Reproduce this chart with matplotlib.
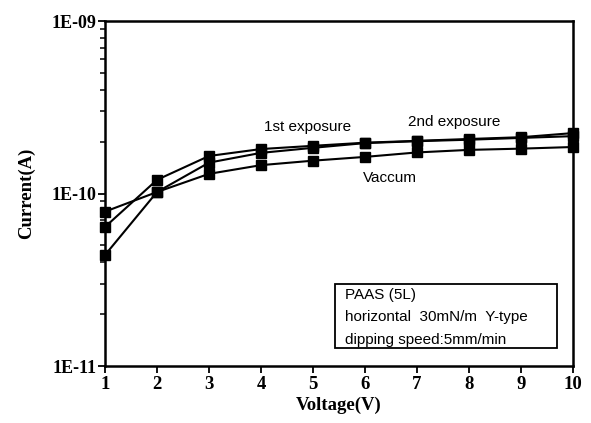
import matplotlib
matplotlib.use("Agg")
import matplotlib.pyplot as plt
from matplotlib.patches import Rectangle
from matplotlib.ticker import LogLocator, NullFormatter, FixedLocator

voltage = [1, 2, 3, 4, 5, 6, 7, 8, 9, 10]
vaccum = [7.85e-11, 1.02e-10, 1.30e-10, 1.46e-10, 1.55e-10, 1.63e-10, 1.73e-10, 1.79e-10, 1.82e-10, 1.86e-10]
first_exposure = [6.4e-11, 1.20e-10, 1.65e-10, 1.81e-10, 1.89e-10, 1.97e-10, 2.02e-10, 2.07e-10, 2.12e-10, 2.24e-10]
second_exposure = [4.4e-11, 1.02e-10, 1.51e-10, 1.72e-10, 1.84e-10, 1.96e-10, 2.01e-10, 2.05e-10, 2.10e-10, 2.15e-10]

y_ticks = [1e-11, 1e-10, 1e-9]
y_tick_labels = ["1E-11", "1E-10", "1E-09"]
x_tick_labels = [str(v) for v in voltage]
box_lines = ["PAAS (5L)", "horizontal  30mN/m  Y-type", "dipping speed:5mm/min"]

fig = plt.figure(figsize=(5.91, 4.23), dpi=100)
ax = fig.add_axes([105/591, 1 - 366/423, (573-105)/591, (366-21)/423])

for series in (vaccum, first_exposure, second_exposure):
    ax.plot(voltage, series, color="black", lw=1.5, marker="s", ms=7.5,
            markerfacecolor="black", markeredgecolor="black", clip_on=False)

ax.set_yscale("log")
ax.set_ylim(1e-11, 1e-9)
ax.set_xlim(1, 10)

serif = ["Liberation Serif", "DejaVu Serif"]
sans = ["Liberation Sans", "DejaVu Sans"]

ax.yaxis.set_major_locator(FixedLocator(y_ticks))
ax.set_yticklabels(y_tick_labels, fontfamily=serif, fontweight="bold", fontsize=13)
ax.yaxis.set_minor_locator(LogLocator(base=10, subs=range(2, 10)))
ax.yaxis.set_minor_formatter(NullFormatter())
ax.set_xticks(voltage)
ax.set_xticklabels(x_tick_labels, fontfamily=serif, fontweight="bold", fontsize=13.5)

ax.tick_params(axis="y", which="major", direction="out", length=5, width=1.3, pad=1)
ax.tick_params(axis="y", which="minor", direction="out", length=3.5, width=1.1)
ax.tick_params(axis="x", which="major", direction="out", length=5, width=1.3, pad=2)
for s in ax.spines.values():
    s.set_linewidth(1.8)

ax.set_xlabel("Voltage(V)", fontfamily=serif, fontweight="bold", fontsize=13.5, labelpad=3)
ax.set_ylabel("Current(A)", fontfamily=serif, fontweight="bold", fontsize=13.5, labelpad=12)

ax.text(4.90, 2.43e-10, "1st exposure", fontfamily=sans, fontsize=11, ha="center", va="center")
ax.text(7.71, 2.60e-10, "2nd exposure", fontfamily=sans, fontsize=11, ha="center", va="center")
ax.text(6.48, 1.23e-10, "Vaccum", fontfamily=sans, fontsize=11, ha="center", va="center")

ax.add_patch(Rectangle((0.4915, 0.052), 0.9658 - 0.4915, 0.2377 - 0.052,
                       transform=ax.transAxes, facecolor="white", edgecolor="black",
                       lw=1.3, zorder=3))
for i, line in enumerate(box_lines):
    ax.text(0.513, 0.2055 - i * 0.0645, line, transform=ax.transAxes, fontfamily=sans,
            fontsize=11, ha="left", va="center", zorder=4)

fig.savefig("out.png", dpi=100)
